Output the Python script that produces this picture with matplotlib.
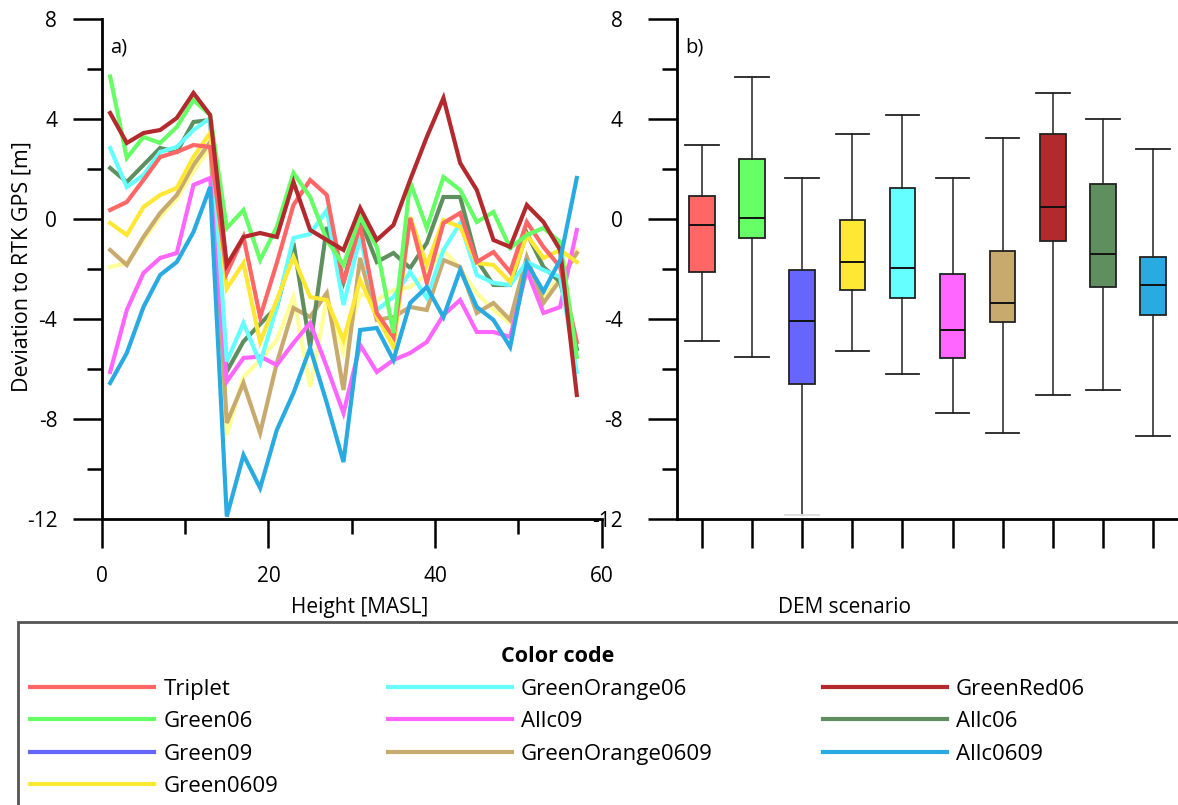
import numpy as np
import matplotlib
matplotlib.use("Agg")
import matplotlib.pyplot as plt
from matplotlib.lines import Line2D
from matplotlib.patches import Rectangle

plt.rcParams['font.family'] = ['Open Sans', 'DejaVu Sans']
plt.rcParams['axes.unicode_minus'] = False

# scenario names and their colours (legend / boxes)
names = ['Triplet', 'Green06', 'Green09', 'Green0609', 'GreenOrange06',
         'Allc09', 'GreenOrange0609', 'GreenRed06', 'Allc06', 'Allc0609']
colors = ['#ff6666', '#66ff66', '#6666ff', '#ffe833', '#66ffff',
          '#ff66ff', '#c8aa6e', '#b22a2e', '#5f8f5f', '#29abe2']

# panel a) deviation along the profile
height = np.arange(1, 58, 2)
dev_triplet = [0.36, 0.68, 1.56, 2.48, 2.68, 2.96, 2.88, -2.16, -0.72, -3.92, -1.76, 0.56, 1.56, 0.96, -2.56,
               -0.24, -3.76, -4.72, 0.04, -2.56, -0.16, 0.24, -1.72, -1.32, -2.12, -0.12, -1.12, -1.92, -4.92]
dev_green06 = [5.7, 2.44, 3.28, 3.04, 3.68, 4.76, 4.16, -0.36, 0.36, -1.64, -0.32, 1.84, 0.88, -0.84, -1.84,
               0.08, -1.12, -4.56, 1.48, -0.36, 1.68, 1.16, -0.12, 0.28, -1.16, -0.64, -0.36, -0.92, -5.52]
dev_green09 = [-6.56, -5.36, -3.52, -2.24, -1.72, -0.52, 1.28, -11.9, -9.44, -10.76, -8.44, -6.96, -5.16, -7.36, -9.72,
               -4.44, -4.36, -5.64, -3.36, -2.72, -3.92, -2.04, -3.52, -4.04, -5.12, -1.76, -2.9, -1.64, 1.64]
dev_green0609 = [-0.16, -0.64, 0.48, 0.96, 1.24, 2.48, 3.44, -2.78, -1.76, -4.92, -3.24, -1.52, -3.12, -3.24, -4.84,
                 -2.44, -3.9, -5.12, 0.08, -1.84, -0.04, -0.32, -1.76, -1.84, -2.52, -0.64, -1.56, -1.24, -1.72]
dev_greenorange06 = [2.84, 1.28, 1.76, 2.68, 2.88, 3.56, 4.04, -5.7, -4.16, -5.76, -3.52, -0.76, -0.6, 0.36, -3.44,
                     -0.72, -3.64, -3.12, -2.12, -3.16, -1.24, -0.16, -2.24, -2.56, -2.64, -1.72, -2.04, -2.32, -6.12]
dev_allc09 = [-6.12, -3.64, -2.16, -1.56, -1.36, 1.36, 1.64, -6.5, -5.56, -5.5, -5.84, -4.96, -4.16, -5.92, -7.76,
              -5.04, -6.12, -5.64, -5.36, -4.92, -3.84, -3.24, -4.52, -4.52, -4.72, -2.04, -3.76, -3.52, -0.44]
dev_greenorange0609 = [-1.24, -1.84, -0.72, 0.24, 0.96, 2.16, 3.08, -8.16, -6.56, -8.56, -5.76, -3.56, -3.92, -2.96, -6.84,
                       -1.56, -4.04, -3.92, -3.52, -3.64, -1.64, -1.92, -3.76, -3.36, -4.04, -1.52, -3.36, -2.44, -1.36]
dev_greenred06 = [4.24, 3.04, 3.44, 3.56, 4.04, 5.04, 4.16, -1.84, -0.72, -0.56, -0.72, 1.48, -0.44, -0.84, -1.24,
                  0.44, -0.84, -0.24, 1.56, 3.28, 4.84, 2.24, 1.16, -0.84, -1.12, 0.56, -0.12, -1.24, -7.04]
dev_allc06 = [2.04, 1.48, 2.16, 2.84, 2.68, 3.88, 3.96, -6.1, -4.9, -4.2, -3.52, -0.96, -5.12, -0.32, -2.52,
              -0.04, -1.72, -1.36, -1.96, -0.96, 0.88, 0.88, -1.64, -2.64, -2.64, -0.56, -1.92, -2.52, -5.2]
dev_allc0609 = [-1.92, -1.76, -0.84, 0.1, 0.8, 1.9, 2.85, -8.64, -6.32, -5.64, -4.84, -3.12, -6.72, -3.24, -5.36,
                -3.0, -3.24, -2.84, -2.72, -2.2, -1.24, -2.0, -2.96, -3.64, -4.16, -1.72, -3.12, -2.32, -1.24]

# drawing order and line colours used in panel a)
line_series = [dev_allc0609, dev_greenorange0609, dev_allc06, dev_allc09, dev_greenorange06,
               dev_green0609, dev_triplet, dev_green06, dev_greenred06, dev_green09]
line_colors = ['#ffff99', '#c8aa6e', '#5f8f5f', '#ff66ff', '#66ffff',
               '#ffe833', '#ff6666', '#66ff66', '#b22a2e', '#29abe2']

# panel b) box statistics per scenario
box_whishi = [2.97, 5.69, 1.65, 3.41, 4.16, 1.65, 3.23, 5.02, 3.98, 2.81]
box_q3 = [0.93, 2.40, -2.06, -0.05, 1.24, -2.19, -1.27, 3.38, 1.38, -1.51]
box_med = [-0.23, 0.02, -4.10, -1.74, -1.96, -4.45, -3.38, 0.46, -1.42, -2.66]
box_q1 = [-2.13, -0.78, -6.61, -2.86, -3.18, -5.57, -4.13, -0.87, -2.72, -3.85]
box_whislo = [-4.88, -5.52, -11.83, -5.29, -6.21, -7.77, -8.56, -7.03, -6.85, -8.67]

fig = plt.figure(figsize=(11.78, 8.05), dpi=100)
ax1 = fig.add_axes([101.8 / 1178, 286 / 805, 500 / 1178, 500 / 805])
ax2 = fig.add_axes([677 / 1178, 286 / 805, 501 / 1178, 500 / 805])

for vals, c in zip(line_series, line_colors):
    ax1.plot(height, vals, color=c, lw=3.0, solid_joinstyle='miter')
ax1.set_xlim(0, 60)
ax1.set_xticks([0, 20, 40, 60])
ax1.set_xticks([10, 30, 50], minor=True)

stats = []
for i in range(len(names)):
    stats.append(dict(med=box_med[i], q1=box_q1[i], q3=box_q3[i],
                      whislo=box_whislo[i], whishi=box_whishi[i], fliers=[]))
bp = ax2.bxp(stats, positions=np.arange(1, 11), widths=0.51, patch_artist=True,
             showfliers=False,
             boxprops=dict(edgecolor='#222222', linewidth=1.3),
             medianprops=dict(color='#111111', linewidth=1.4),
             whiskerprops=dict(color='#222222', linewidth=1.1),
             capprops=dict(color='#222222', linewidth=1.3), capwidths=0.67)
for patch, c in zip(bp['boxes'], colors):
    patch.set_facecolor(c)
bp['caps'][4].set_color('#dddddd')
ax2.set_xlim(0.5, 10.5)
ax2.set_xticks(np.arange(1, 11))
ax2.set_xticklabels([])

for ax in (ax1, ax2):
    ax.set_ylim(-12, 8)
    ax.set_yticks([8, 4, 0, -4, -8, -12])
    ax.set_yticks([6, 2, -2, -6, -10], minor=True)
    ax.spines['top'].set_visible(False)
    ax.spines['right'].set_visible(False)
    ax.spines['left'].set_linewidth(2)
    ax.spines['bottom'].set_linewidth(2)
    ax.tick_params(which='major', length=21, width=1.8, direction='out', labelsize=15)
    ax.tick_params(which='minor', length=11, width=1.8, direction='out')
    ax.tick_params(axis='x', which='major', pad=13)
ax1.tick_params(axis='y', which='major', pad=11)
ax2.tick_params(axis='y', which='major', pad=18)

ax1.set_xlabel('Height [MASL]', fontsize=15)
ax1.xaxis.set_label_coords(0.516, -0.156)
ax1.set_ylabel('Deviation to RTK GPS [m]', fontsize=15.5)
ax1.yaxis.set_label_coords(-0.138, 0.504)
ax2.set_xlabel('DEM scenario', fontsize=15)
ax2.xaxis.set_label_coords(0.335, -0.156)
ax1.text(0.016, 0.944, 'a)', transform=ax1.transAxes, fontsize=14.5, va='center')
ax2.text(0.016, 0.944, 'b)', transform=ax2.transAxes, fontsize=14.5, va='center')

# legend panel
fig.patches.append(Rectangle((18 / 1178, -0.05), 1.2, (805 - 622) / 805 + 0.05,
                             transform=fig.transFigure, fill=False,
                             edgecolor='#555555', lw=2))
handles = [Line2D([], [], color=c, lw=3.0) for c in colors]
fig.legend(handles, names, ncol=3, loc='upper left', mode='expand',
           bbox_to_anchor=(30 / 1178, (805 - 654) / 805, 1055 / 1178, 0.01),
           frameon=False, fontsize=16, handlelength=5.6, handletextpad=0.4,
           labelspacing=0.52, borderpad=0, borderaxespad=0,
           title='Color code', title_fontproperties={'weight': 'bold', 'size': 15.5})

fig.savefig('out.png', dpi=100)
